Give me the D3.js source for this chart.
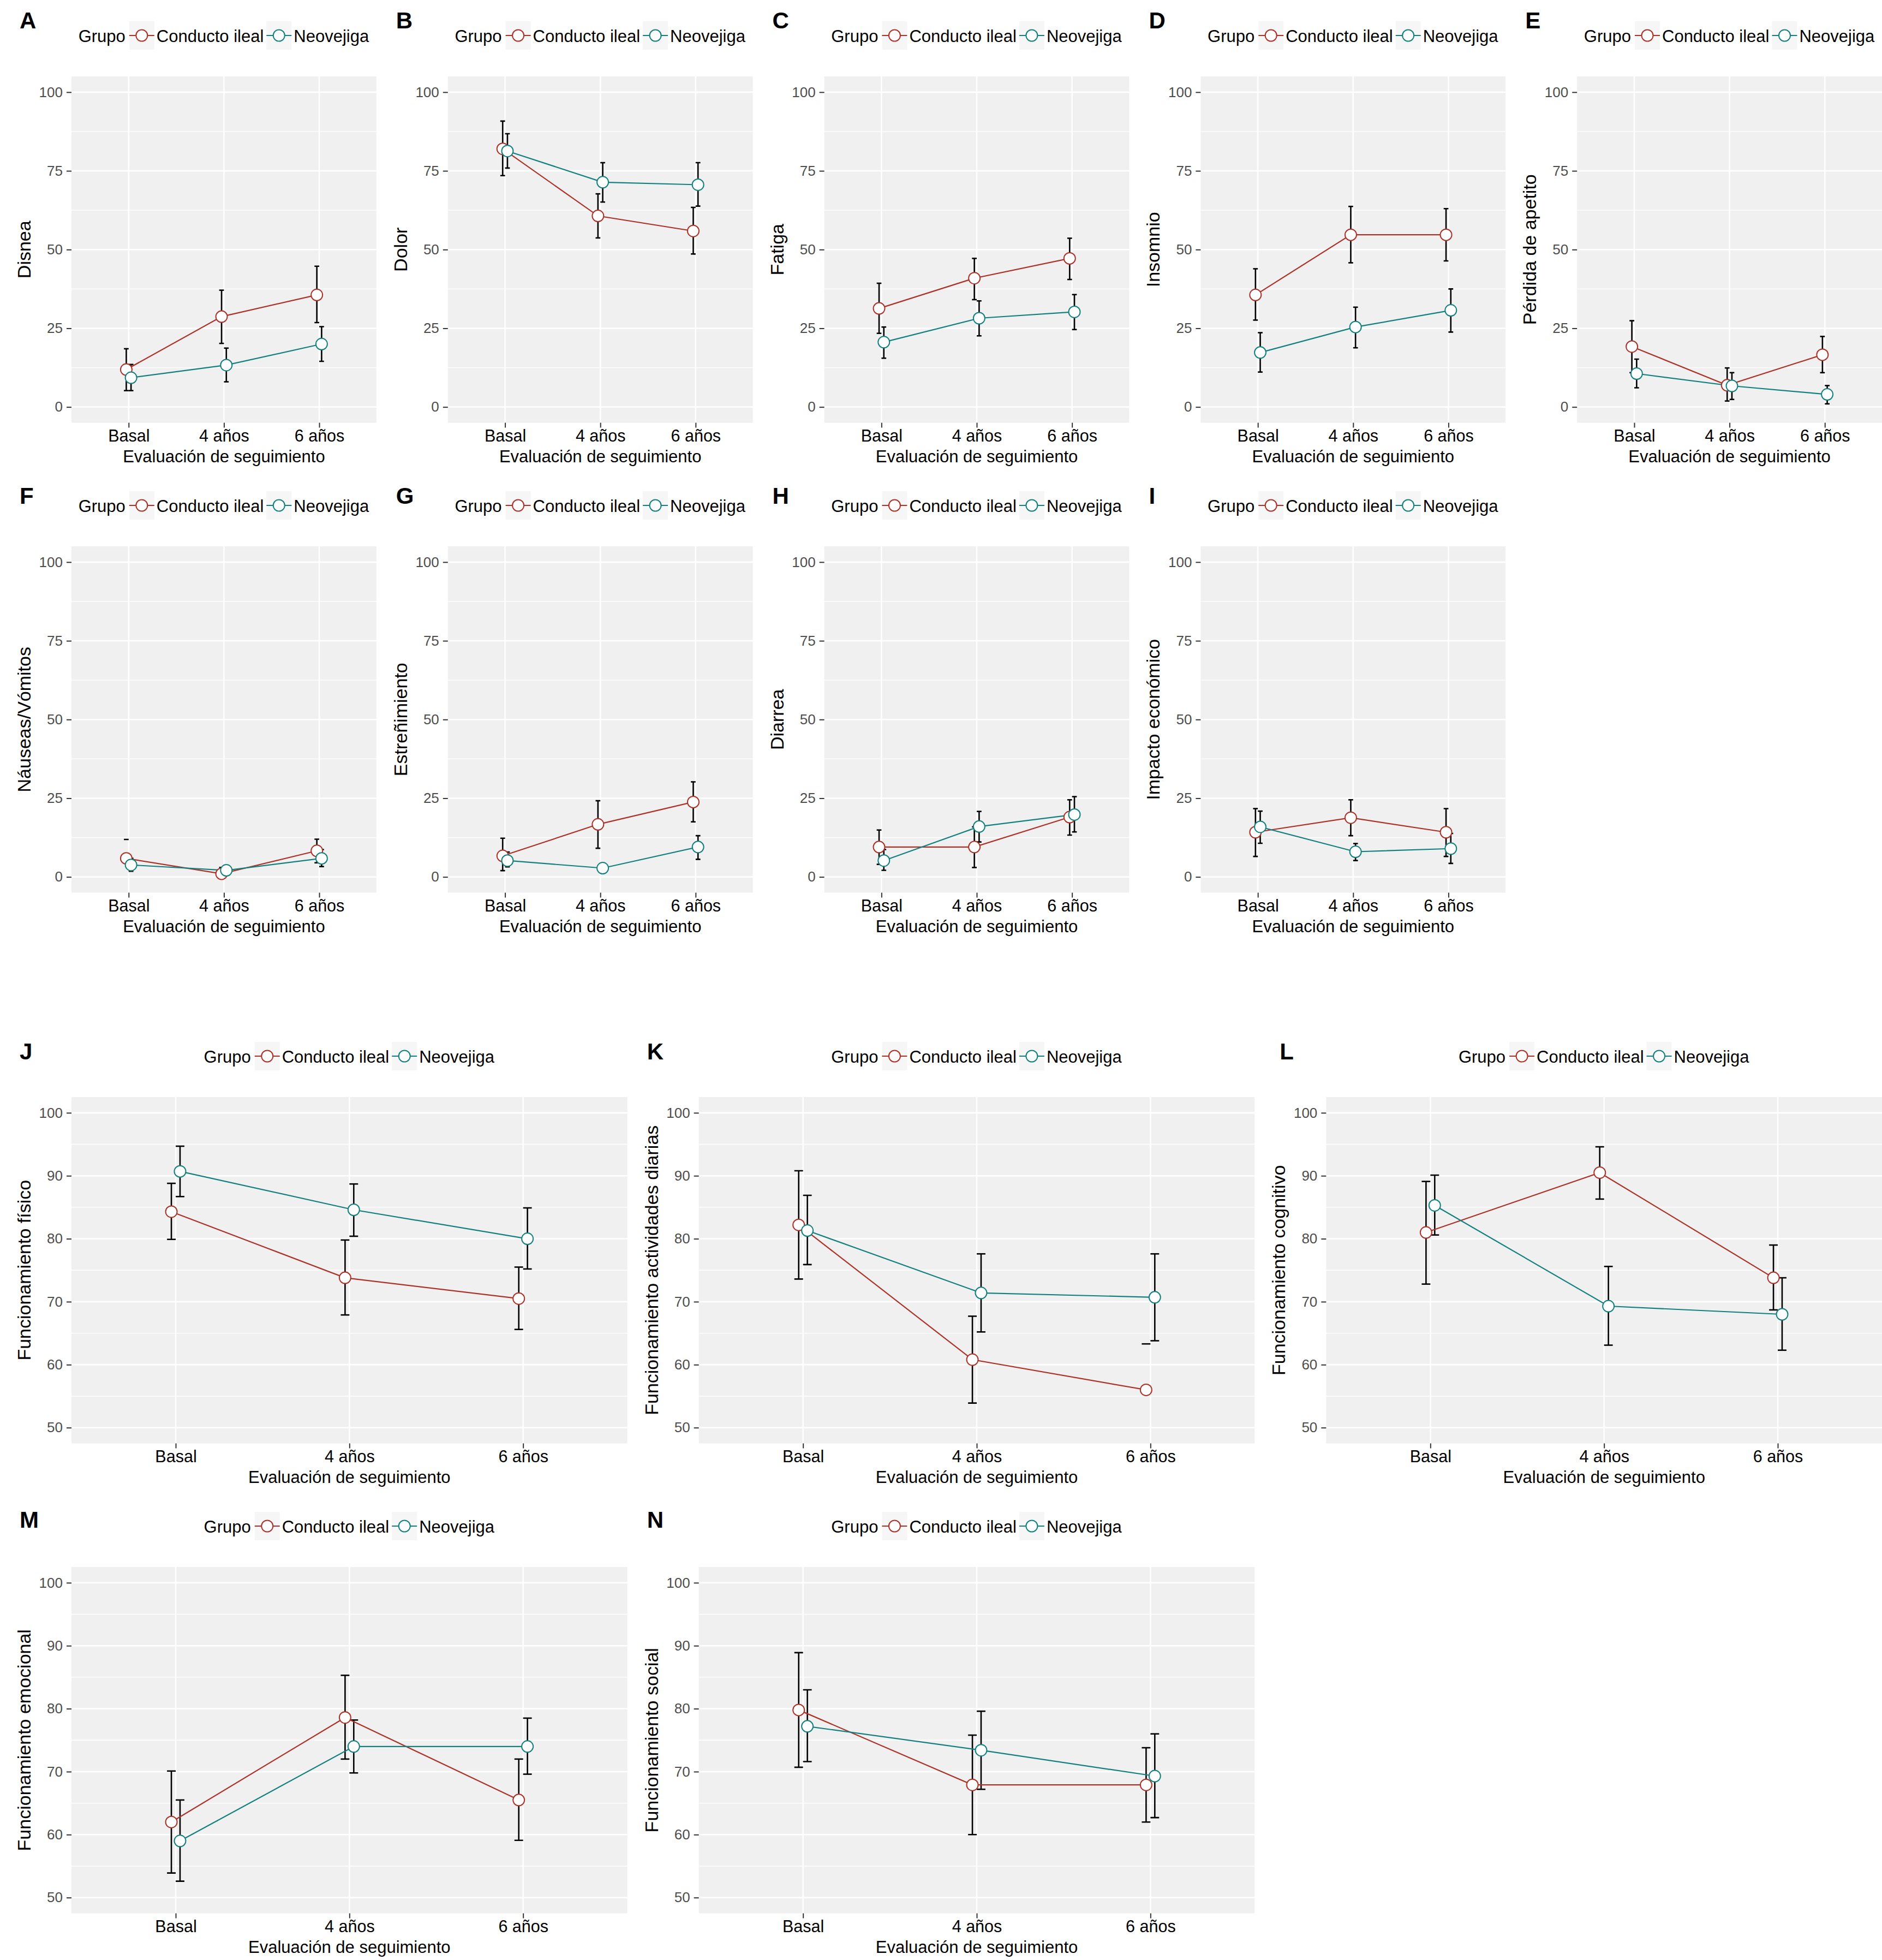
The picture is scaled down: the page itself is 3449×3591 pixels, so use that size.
<!DOCTYPE html>
<html><head><meta charset="utf-8">
<script src="https://cdn.jsdelivr.net/npm/d3@7"></script>
<style>body{margin:0;background:#fff} svg{display:block} text{font-family:"Liberation Sans",Arial,Helvetica,sans-serif}</style>
</head><body><svg id="chart" width="3449" height="3591"></svg>
<script>
// ---------------- DATA ----------------
const timepoints = ["Basal", "4 años", "6 años"];
const groupNames = ["Conducto ileal", "Neovejiga"];
const panelLetters = ["A","B","C","D","E","F","G","H","I","J","K","L","M","N"];
const yTitles = ["Disnea","Dolor","Fatiga","Insomnio","Pérdida de apetito","Náuseas/Vómitos","Estreñimiento","Diarrea","Impacto económico",
  "Funcionamiento físico","Funcionamiento actividades diarias","Funcionamiento cognitivo","Funcionamiento emocional","Funcionamiento social"];
const symptomTicks = [0, 25, 50, 75, 100];
const functionTicks = [50, 60, 70, 80, 90, 100];
const xAxisTitle = "Evaluación de seguimiento";
const legendTitle = "Grupo";

// Conducto ileal: mean, lower, upper (per panel, per timepoint); null = bound not drawn
const ilealMean = [
  [11.9,28.7,35.6],[82.0,60.7,55.9],[31.3,40.9,47.2],[35.6,54.7,54.7],[19.2,6.9,16.6],
  [5.9,1.0,8.3],[6.7,16.7,23.8],[9.5,9.5,19.0],[14.2,18.8,14.2],
  [84.3,73.8,70.5],[82.2,60.8,56.0],[81.0,90.5,73.8],[62.0,78.6,65.5],[79.8,67.9,67.9]];
const ilealLow = [
  [5.2,20.2,26.8],[73.5,53.7,48.6],[23.4,34.1,40.5],[27.6,45.8,46.4],[10.9,1.9,10.9],
  [null,null,4.5],[2.0,9.1,17.5],[4.0,3.0,13.3],[6.5,13.1,6.5],
  [79.9,67.9,65.6],[73.6,53.9,null],[72.8,86.3,68.7],[53.9,72.0,59.1],[70.7,60.0,62.0]];
const ilealHigh = [
  [18.5,37.1,44.7],[90.8,67.7,63.4],[39.3,47.2,53.6],[43.9,63.7,63.0],[27.4,12.4,22.4],
  [11.9,3.0,12.0],[12.3,24.2,30.2],[14.9,15.9,24.5],[21.7,24.5,21.7],
  [88.8,79.8,75.5],[90.8,67.7,63.3],[89.1,94.6,79.0],[70.1,85.3,72.0],[88.9,75.8,73.8]];
// Neovejiga
const neoMean = [
  [9.3,13.3,20.0],[81.3,71.4,70.6],[20.6,28.2,30.2],[17.3,25.4,30.7],[10.6,6.7,4.0],
  [3.8,2.1,5.9],[5.2,2.8,9.5],[5.2,16.0,19.8],[15.9,8.0,9.0],
  [90.7,84.6,80.0],[81.3,71.4,70.7],[85.3,69.3,68.0],[59.0,74.0,74.0],[77.2,73.4,69.3]];
const neoLow = [
  [5.2,8.0,14.5],[75.9,65.1,63.8],[15.5,22.6,24.6],[11.1,18.8,23.8],[6.1,2.4,1.0],
  [1.8,1.0,3.3],[3.2,1.5,5.6],[2.1,11.1,14.3],[10.7,5.2,4.3],
  [86.7,80.4,75.2],[75.9,65.2,63.8],[80.6,63.1,62.3],[52.6,69.8,69.6],[71.6,67.2,62.7]];
const neoHigh = [
  [13.5,18.7,25.5],[86.8,77.6,77.6],[25.4,33.7,35.7],[23.6,31.7,37.5],[15.2,10.9,6.8],
  [5.9,3.2,8.7],[7.9,4.1,13.1],[8.7,20.8,25.5],[20.9,10.6,13.8],
  [94.7,88.7,84.9],[86.9,77.6,77.6],[90.1,75.6,73.8],[65.5,78.2,78.5],[83.0,79.6,76.0]];

// ---------------- STYLE / LAYOUT ----------------
const W = 3449;
const colors = ["#AE3128", "#12807E"];
const panelBg = "#F0F0F0", keyBg = "#F6F6F6";
const FONT_TICK_Y = 26, FONT_TICK_X = 30.5, FONT_BASE = 31, FONT_YTITLE = 34, FONT_LABEL = 42;
const topRows = [0, 861], bottomRows = [1870, 2731];
const labelBase = [52, 62, 71, 68];

const svg = d3.select("#chart");
svg.append("rect").attr("width", W).attr("height", 3591).attr("fill", "#fff");

function layoutFor(i) {
  if (i < 9) {
    const cw = W / 5, col = i % 5, row = Math.floor(i / 5);
    return {cx: col * cw, cw, top: topRows[row], rowIdx: row, fun: false};
  }
  const j = i - 9, cw = W / 3, col = j % 3, row = Math.floor(j / 3);
  return {cx: col * cw, cw, top: bottomRows[row], rowIdx: row + 2, fun: true};
}

const measurer = svg.append("text").attr("font-size", FONT_BASE).attr("visibility", "hidden");
function textW(s) { measurer.text(s); return measurer.node().getComputedTextLength(); }

panelLetters.forEach((letter, i) => {
  const L = layoutFor(i);
  const left = L.cx + 131, right = Math.min(L.cx + L.cw, W);
  const pTop = L.top + 140, pBot = L.top + 774.5;
  const g = svg.append("g");

  const x = d3.scalePoint().domain(timepoints).range([left, right]).padding(0.6);
  const step = x.step();
  const y = d3.scaleLinear().domain(L.fun ? [47.5, 102.5] : [-5, 105]).range([pBot, pTop]);
  const ticks = L.fun ? functionTicks : symptomTicks;
  const minor = ticks.slice(1).map((t, k) => (t + ticks[k]) / 2);

  // panel background + grid
  g.append("rect").attr("x", left).attr("y", pTop).attr("width", right - left).attr("height", pBot - pTop).attr("fill", panelBg);
  g.selectAll(".mn").data(minor).join("line").attr("x1", left).attr("x2", right)
    .attr("y1", d => y(d)).attr("y2", d => y(d)).attr("stroke", "#fff").attr("stroke-width", 1.3);
  g.selectAll(".mj").data(ticks).join("line").attr("x1", left).attr("x2", right)
    .attr("y1", d => y(d)).attr("y2", d => y(d)).attr("stroke", "#fff").attr("stroke-width", 2.6);
  g.selectAll(".vx").data(timepoints).join("line").attr("x1", d => x(d)).attr("x2", d => x(d))
    .attr("y1", pTop).attr("y2", pBot).attr("stroke", "#fff").attr("stroke-width", 2.6);

  // axes
  const ya = g.append("g").attr("transform", `translate(${left},0)`)
    .call(d3.axisLeft(y).tickValues(ticks).tickSize(9).tickPadding(7));
  ya.select(".domain").remove();
  ya.selectAll("line").attr("stroke", "#333").attr("stroke-width", 2);
  ya.selectAll("text").attr("fill", "#4D4D4D").attr("font-size", FONT_TICK_Y).attr("font-family", null);

  const xa = g.append("g").attr("transform", `translate(0,${pBot})`)
    .call(d3.axisBottom(x).tickSize(9).tickPadding(3.5));
  xa.select(".domain").remove();
  xa.selectAll("line").attr("stroke", "#333").attr("stroke-width", 2);
  xa.selectAll("text").attr("fill", "#000").attr("font-size", FONT_TICK_X).attr("font-family", null);

  g.append("text").attr("x", (left + right) / 2).attr("y", pBot + 72).attr("text-anchor", "middle")
    .attr("font-size", FONT_BASE).text(xAxisTitle);
  g.append("text").attr("transform", `translate(${L.cx + 56},${(pTop + pBot) / 2}) rotate(-90)`)
    .attr("text-anchor", "middle").attr("font-size", FONT_YTITLE).text(yTitles[i]);

  // panel letter
  g.append("text").attr("x", L.cx + (letter === "L" ? 46 : 36)).attr("y", L.top + labelBase[L.rowIdx])
    .attr("font-size", FONT_LABEL).attr("font-weight", "bold").text(letter);

  // data
  const series = [
    {mean: ilealMean[i], lo: ilealLow[i], hi: ilealHigh[i], off: -0.025},
    {mean: neoMean[i], lo: neoLow[i], hi: neoHigh[i], off: 0.025}
  ];
  const cap = 0.025 * step;
  const clipId = "clip" + i;
  g.append("clipPath").attr("id", clipId).append("rect").attr("x", left).attr("y", pTop).attr("width", right - left).attr("height", pBot - pTop);
  const dg = g.append("g").attr("clip-path", `url(#${clipId})`);

  series.forEach(s => {
    timepoints.forEach((t, k) => {
      const cxp = x(t) + s.off * step;
      const lo = s.lo[k], hi = s.hi[k];
      if (lo != null && hi != null)
        dg.append("line").attr("x1", cxp).attr("x2", cxp).attr("y1", y(lo)).attr("y2", y(hi)).attr("stroke", "#000").attr("stroke-width", 2.6);
      [lo, hi].forEach(v => {
        if (v != null) dg.append("line").attr("x1", cxp - cap).attr("x2", cxp + cap).attr("y1", y(v)).attr("y2", y(v)).attr("stroke", "#000").attr("stroke-width", 2.6);
      });
    });
  });
  series.forEach((s, gi) => {
    const line = d3.line().x((d, k) => x(timepoints[k]) + s.off * step).y(d => y(d));
    dg.append("path").attr("d", line(s.mean)).attr("fill", "none").attr("stroke", colors[gi]).attr("stroke-width", 2.2);
  });
  series.forEach((s, gi) => {
    dg.selectAll(null).data(s.mean).join("circle")
      .attr("cx", (d, k) => x(timepoints[k]) + s.off * step).attr("cy", d => y(d)).attr("r", 10.5)
      .attr("fill", "#fff").attr("stroke", colors[gi]).attr("stroke-width", 2);
  });

  // legend
  const keyW = 46, keyH = 52;
  const wT = textW(legendTitle), w1 = textW(groupNames[0]), w2 = textW(groupNames[1]);
  const total = wT + 7 + keyW + 4 + w1 + 5 + keyW + 5 + w2;
  let lx = (left + right) / 2 - total / 2;
  const lb = L.top + 77, kc = L.top + 65;
  const lg = g.append("g");
  lg.append("text").attr("x", lx).attr("y", lb).attr("font-size", FONT_BASE).text(legendTitle);
  lx += wT + 7;
  groupNames.forEach((name, gi) => {
    lg.append("rect").attr("x", lx).attr("y", kc - keyH / 2).attr("width", keyW).attr("height", keyH).attr("fill", keyBg);
    lg.append("line").attr("x1", lx).attr("x2", lx + keyW).attr("y1", kc).attr("y2", kc).attr("stroke", colors[gi]).attr("stroke-width", 2.2);
    lg.append("circle").attr("cx", lx + keyW / 2).attr("cy", kc).attr("r", 10.5).attr("fill", "#fff").attr("stroke", colors[gi]).attr("stroke-width", 2);
    lx += keyW + 4;
    lg.append("text").attr("x", lx).attr("y", lb).attr("font-size", FONT_BASE).text(name);
    lx += (gi === 0 ? w1 : w2) + 5;
  });
});
measurer.remove();
</script></body></html>
